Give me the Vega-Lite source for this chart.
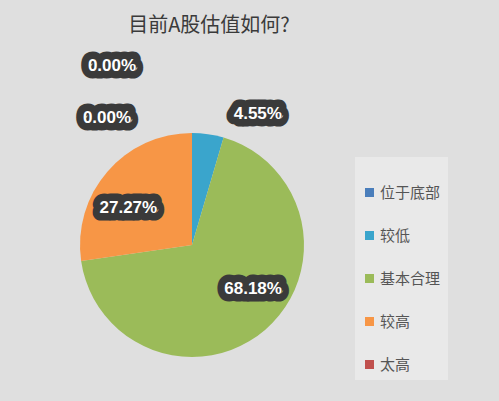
{
  "$schema": "https://vega.github.io/schema/vega-lite/v6.json",
  "autosize": {"type": "none"},
  "padding": {"left": 81, "top": 134, "right": 196, "bottom": 45},
  "width": 222,
  "height": 222,
  "background": "#dfdfdf",
  "title": {
    "text": "目前A股估值如何?",
    "font": "Noto Sans CJK SC",
    "fontSize": 20,
    "fontWeight": "normal",
    "color": "#3a3a3a",
    "anchor": "middle",
    "dx": 17,
    "offset": 21
  },
  "config": {"view": {"stroke": null}},
  "data": {
    "values": [
      {"category": "位于底部", "value": 0, "label": "0.00%", "order": 1},
      {"category": "较低", "value": 4.55, "label": "4.55%", "order": 2},
      {"category": "基本合理", "value": 68.18, "label": "68.18%", "order": 3},
      {"category": "较高", "value": 27.27, "label": "27.27%", "order": 4},
      {"category": "太高", "value": 0, "label": "0.00%", "order": 5}
    ]
  },
  "encoding": {
    "theta": {"field": "value", "type": "quantitative", "stack": true},
    "order": {"field": "order", "type": "quantitative"}
  },
  "layer": [
    {
      "mark": {"type": "arc", "outerRadius": 112},
      "encoding": {
        "color": {
          "field": "category",
          "type": "nominal",
          "sort": ["位于底部", "较低", "基本合理", "较高", "太高"],
          "scale": {
            "domain": ["位于底部", "较低", "基本合理", "较高", "太高"],
            "range": ["#4a7ebb", "#3aa5cc", "#9bbb59", "#f79646", "#c0504d"]
          },
          "legend": {
            "orient": "none",
            "legendX": 274,
            "legendY": 23,
            "title": " ",
            "titleFontSize": 14,
            "titlePadding": 7,
            "padding": 7,
            "fillColor": "#e9e9e9",
            "symbolType": "square",
            "symbolSize": 81,
            "symbolStrokeWidth": 0,
            "labelFont": "Noto Sans CJK SC",
            "labelFontSize": 15,
            "labelColor": "#555555",
            "labelOffset": 3,
            "rowPadding": 27
          }
        }
      }
    },
    {
      "encoding": {"text": {"condition": {"test": "datum.category === '基本合理'", "field": "label"}, "value": ""}},
      "layer": [
        {"mark": {"type": "text", "radius": 75, "dx": 12, "dy": -13, "font": "Liberation Sans", "fontWeight": "bold", "fontSize": 17, "fill": "#3a3a3a", "stroke": "#3a3a3a", "strokeWidth": 15, "strokeJoin": "round"}},
        {"mark": {"type": "text", "radius": 75, "dx": 12, "dy": -13, "font": "Liberation Sans", "fontWeight": "bold", "fontSize": 17, "fill": "white"}}
      ]
    },
    {
      "encoding": {"text": {"condition": {"test": "datum.category === '较高'", "field": "label"}, "value": ""}},
      "layer": [
        {"mark": {"type": "text", "radius": 75, "dx": -7, "dy": 12, "font": "Liberation Sans", "fontWeight": "bold", "fontSize": 17, "fill": "#3a3a3a", "stroke": "#3a3a3a", "strokeWidth": 15, "strokeJoin": "round"}},
        {"mark": {"type": "text", "radius": 75, "dx": -7, "dy": 12, "font": "Liberation Sans", "fontWeight": "bold", "fontSize": 17, "fill": "white"}}
      ]
    },
    {
      "encoding": {"text": {"condition": {"test": "datum.category === '较低'", "field": "label"}, "value": ""}},
      "layer": [
        {"mark": {"type": "text", "radius": 132, "dx": 47, "font": "Liberation Sans", "fontWeight": "bold", "fontSize": 17, "fill": "#3a3a3a", "stroke": "#3a3a3a", "strokeWidth": 15, "strokeJoin": "round"}},
        {"mark": {"type": "text", "radius": 132, "dx": 47, "font": "Liberation Sans", "fontWeight": "bold", "fontSize": 17, "fill": "white"}}
      ]
    },
    {
      "encoding": {"text": {"condition": {"test": "datum.category === '位于底部'", "field": "label"}, "value": ""}},
      "layer": [
        {"mark": {"type": "text", "radius": 179, "dx": -80, "font": "Liberation Sans", "fontWeight": "bold", "fontSize": 17, "fill": "#3a3a3a", "stroke": "#3a3a3a", "strokeWidth": 15, "strokeJoin": "round"}},
        {"mark": {"type": "text", "radius": 179, "dx": -80, "font": "Liberation Sans", "fontWeight": "bold", "fontSize": 17, "fill": "white"}}
      ]
    },
    {
      "encoding": {"text": {"condition": {"test": "datum.category === '太高'", "field": "label"}, "value": ""}},
      "layer": [
        {"mark": {"type": "text", "radius": 127, "dx": -85, "font": "Liberation Sans", "fontWeight": "bold", "fontSize": 17, "fill": "#3a3a3a", "stroke": "#3a3a3a", "strokeWidth": 15, "strokeJoin": "round"}},
        {"mark": {"type": "text", "radius": 127, "dx": -85, "font": "Liberation Sans", "fontWeight": "bold", "fontSize": 17, "fill": "white"}}
      ]
    }
  ]
}
